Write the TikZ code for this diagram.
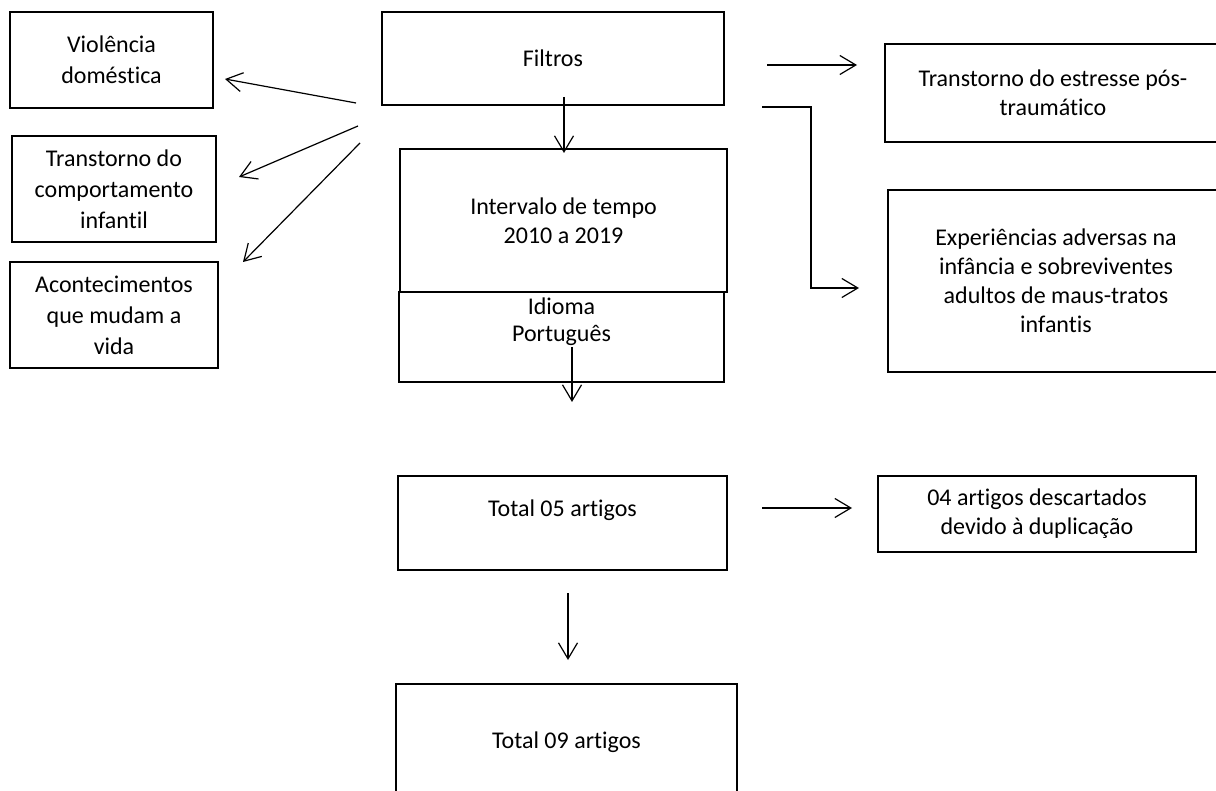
\documentclass[tikz,border=0pt]{standalone}
\usepackage{fontspec}
\setmainfont{Carlito}[Ligatures=NoCommon]
\usetikzlibrary{arrows.meta}

\begin{document}
\begin{tikzpicture}[x=1pt,y=-1pt]
	\tikzstyle{box} = [rectangle, draw=black, line width=2.6pt, align=center, 
	inner sep=0pt, font=\fontsize{24}{29}\selectfont]
	\tikzstyle{sidebox} = [box, font=\fontsize{24}{31}\selectfont]
	\tikzstyle{arrow} = [line width=1.2pt, -{Straight Barb[length=16pt, width=19pt]}]
	\useasboundingbox (0,0) rectangle (1216,791);
	\clip (0,0) rectangle (1216,791);
	% caixas da esquerda
	\node (violencia) [sidebox, minimum width=203pt, minimum height=96pt] at (111.5,60) {Violência\\doméstica};
	\node (comportamento) [sidebox, minimum width=204pt, minimum height=106pt] at (114,189) {Transtorno do\\comportamento\\infantil};
	\node (acontecimentos) [sidebox, minimum width=208pt, minimum height=106pt] at (114,315) {Acontecimentos\\que mudam a\\vida};
	% coluna central
	\node (filtros) [box, minimum width=342pt, minimum height=93pt] at (553,58.5) {Filtros};
	\node (intervalo) [box, minimum width=327pt, minimum height=143pt] at (563.5,220.5) {Intervalo de tempo\\2010 a 2019};
	\node (idioma) [box, minimum width=325pt, minimum height=90pt, 
	label={[anchor=north, align=center, inner sep=7pt, font=\fontsize{24}{27}\selectfont]north:Idioma\\Português}] at (561.5,337) {};
	\node (total05) [box, minimum width=329pt, minimum height=94pt, text depth=30pt] at (562.5,523) {Total 05 artigos};
	\node (total09) [box, minimum width=341pt, minimum height=116pt] at (566.5,742) {Total 09 artigos};
	% caixas da direita
	\node (estresse) [box, minimum width=336pt, minimum height=98pt] at (1053,93) {Transtorno do estresse pós-\\traumático};
	\node (experiencias) [box, minimum width=336pt, minimum height=182pt] at (1056,281) {Experiências adversas na\\infância e sobreviventes\\adultos de maus-tratos\\infantis};
	\node (descartados) [box, minimum width=318pt, minimum height=76pt] at (1037,514) {04 artigos descartados\\devido à duplicação};
	% pontas soltas das setas
	\coordinate (fV1) at (356,103);
	\coordinate (fV2) at (225,79);
	\coordinate (fC1) at (358,126);
	\coordinate (fC2) at (239,177);
	\coordinate (fA1) at (360,143);
	\coordinate (fA2) at (243,262);
	\coordinate (fI1) at (564,97);
	\coordinate (fI2) at (564,153);
	\coordinate (iT1) at (572,347);
	\coordinate (iT2) at (572,402);
	\coordinate (fE1) at (767,65);
	\coordinate (fE2) at (857,65);
	\coordinate (fX1) at (762,107);
	\coordinate (fBend) at (811,107);
	\coordinate (fX2) at (859,288);
	\coordinate (tD1) at (762,508);
	\coordinate (tD2) at (852,508);
	\coordinate (tT1) at (568,593);
	\coordinate (tT2) at (568,660);
	\draw [arrow] (fV1) -- (fV2);
	\draw [arrow] (fC1) -- (fC2);
	\draw [arrow] (fA1) -- (fA2);
	\draw [arrow] (fI1) -- (fI2);
	\draw [arrow] (iT1) -- (iT2);
	\draw [arrow] (fE1) -- (fE2);
	\draw [arrow] (fX1) -- (fBend) |- (fX2);
	\draw [arrow] (tD1) -- (tD2);
	\draw [arrow] (tT1) -- (tT2);
\end{tikzpicture}
\end{document}
